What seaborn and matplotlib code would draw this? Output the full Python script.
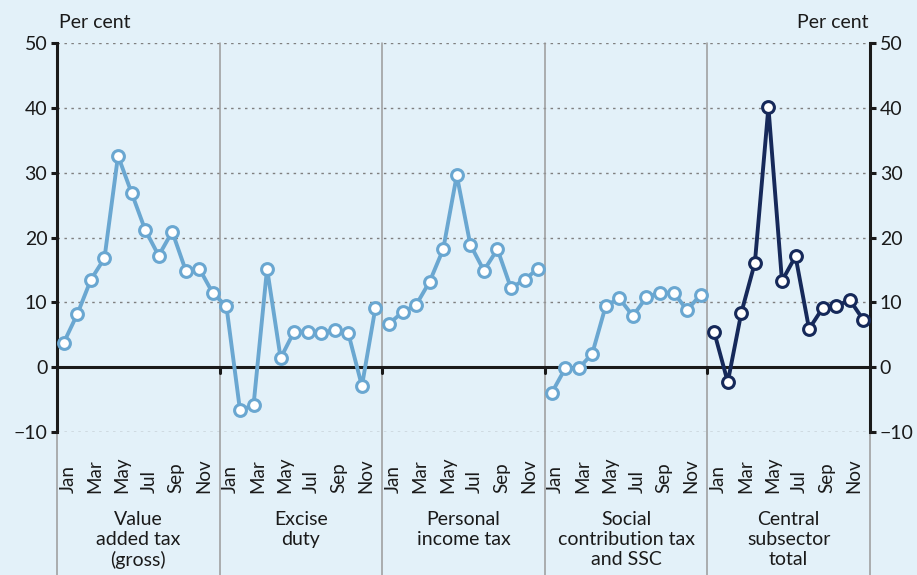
import numpy as np
import pandas as pd
import matplotlib
matplotlib.use("Agg")
import matplotlib.pyplot as plt
import seaborn as sns

# === Data ===
months = ["Jan", "Feb", "Mar", "Apr", "May", "Jun",
          "Jul", "Aug", "Sep", "Oct", "Nov", "Dec"]
categories = ["Value\nadded tax\n(gross)", "Excise\nduty", "Personal\nincome tax",
              "Social\ncontribution tax\nand SSC", "Central\nsubsector\ntotal"]

vat = [3.8, 8.2, 13.5, 16.8, 32.6, 26.9, 21.2, 17.2, 20.9, 14.9, 15.2, 11.4]
excise = [9.4, -6.6, -5.9, 15.2, 1.4, 5.5, 5.5, 5.2, 5.8, 5.2, -2.9, 9.2]
pit = [6.7, 8.5, 9.6, 13.2, 18.2, 29.6, 18.9, 14.9, 18.2, 12.2, 13.5, 15.2]
ssc = [-4.0, -0.2, -0.2, 2.1, 9.5, 10.6, 7.9, 10.8, 11.5, 11.5, 8.8, 11.2]
central = [5.4, -2.3, 8.4, 16.1, 40.1, 13.3, 17.1, 5.9, 9.1, 9.4, 10.4, 7.3]

yticks = [-10, 0, 10, 20, 30, 40, 50]
month_ticks = ["Jan", "Mar", "May", "Jul", "Sep", "Nov"]

# Line segments as drawn: VAT and excise joined, the rest separate
segments = [(vat + excise, 0, "light"), (pit, 24, "light"),
            (ssc, 36, "light"), (central, 48, "dark")]

light_blue = "#6aa7d1"
navy = "#16295a"
bg = "#e3f1f9"

sns.set_style("white")
plt.rcParams["font.family"] = ["Lato", "DejaVu Sans"]
plt.rcParams["axes.unicode_minus"] = True

fig = plt.figure(figsize=(9.17, 5.75), dpi=100, facecolor=bg)
ax = fig.add_axes([0.0622, 0.2487, 0.8866, 0.6765])
ax.set_facecolor(bg)

ax.set_xlim(-0.5, 59.5)
ax.set_ylim(-10, 50)

# dotted grid
for y in yticks:
    if y != 0:
        ax.axhline(y, color="#7f7f7f", lw=1.0, ls=(0, (1.8, 3.2)), zorder=1)
ax.axhline(0, color="#1a1a1a", lw=2.2, zorder=2)

# panel separators, extending down through the label area
seps = [11.5, 23.5, 35.5, 47.5]
trans = ax.get_xaxis_transform()
for s in seps:
    ax.plot([s, s], [-0.37, 1], transform=trans, color="#9a9a9a", lw=1.1,
            clip_on=False, zorder=1)
    ax.plot([s, s], [0, -0.9], color="#1a1a1a", lw=2.2, zorder=2)
for s in [-0.5, 59.5]:
    ax.plot([s, s], [-0.37, 0], transform=trans, color="#9a9a9a", lw=1.1,
            clip_on=False, zorder=1)

for vals, start, tone in segments:
    df = pd.DataFrame({"x": np.arange(start, start + len(vals)), "value": vals})
    col = light_blue if tone == "light" else navy
    sns.lineplot(data=df, x="x", y="value", ax=ax, color=col, lw=2.8,
                 marker="o", markersize=8.5, markerfacecolor="white",
                 markeredgecolor=col, markeredgewidth=2.2, zorder=5)

ax.set_xlabel("")
ax.set_ylabel("")
ax.set_xticks([])

# axes styling
for side in ["top", "bottom"]:
    ax.spines[side].set_visible(False)
for side in ["left", "right"]:
    ax.spines[side].set_visible(True)
    ax.spines[side].set_color("#1a1a1a")
    ax.spines[side].set_linewidth(2.2)

ax.set_yticks(yticks)
ax.set_yticklabels([f"{t}".replace("-", "\u2212") for t in yticks])
ax.tick_params(axis="y", which="both", direction="out", length=4, width=2.2,
               color="#1a1a1a", labelsize=14, labelcolor="#1a1a1a",
               left=True, right=True, labelleft=True, labelright=True, pad=3)

# month labels and category labels under each panel
for p, cat in enumerate(categories):
    for m in month_ticks:
        xi = p * 12 + months.index(m)
        ax.text(xi + 0.3, -0.157, m, transform=trans, rotation=90,
                rotation_mode="anchor", ha="left", va="center",
                fontsize=13.5, color="#1a1a1a")
    ax.text(p * 12 + 5.5, -0.203, cat, transform=trans, ha="center", va="top",
            fontsize=14, color="#1a1a1a", linespacing=1.2)

fig.text(0.064, 0.96, "Per cent", ha="left", va="center", fontsize=14,
         color="#1a1a1a")
fig.text(0.947, 0.96, "Per cent", ha="right", va="center", fontsize=14,
         color="#1a1a1a")

fig.savefig("out.png", dpi=100, facecolor=bg)
